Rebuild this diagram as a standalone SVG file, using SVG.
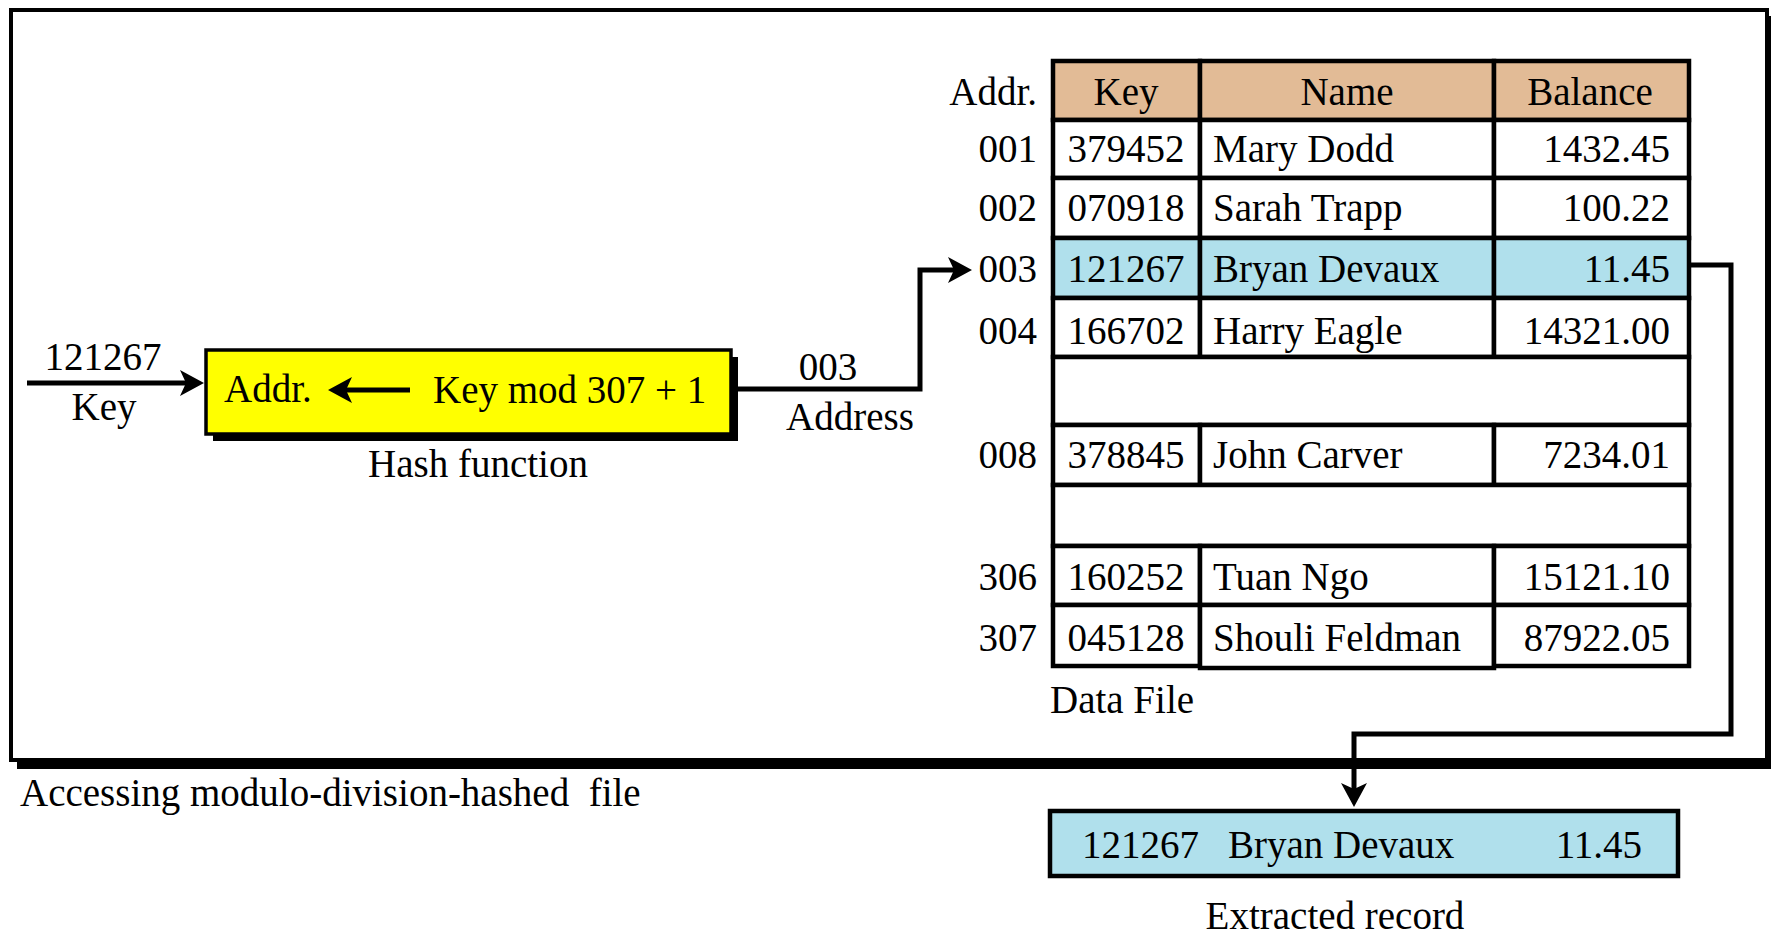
<svg xmlns="http://www.w3.org/2000/svg" width="1771" height="938" viewBox="0 0 1771 938">
  <style>
    text { font-family: "Liberation Serif", "Times New Roman", serif; font-size: 39px; fill: #000; }
    .mid { text-anchor: middle; }
    .end { text-anchor: end; }
    .cell { stroke: #000; stroke-width: 4.5; fill: #fff; }
    .hdr { fill: #E2BB96; }
    .hit { fill: #B0E0EC; }
    .wire { fill: none; stroke: #000; stroke-width: 5; stroke-linejoin: miter; }
  </style>
  <defs>
    <marker id="head" viewBox="0 0 24 26" refX="6" refY="13" markerWidth="24" markerHeight="26" markerUnits="userSpaceOnUse" orient="auto">
      <path d="M0,0 L24,13 L0,26 L6,13 Z" fill="#000"/>
    </marker>
  </defs>

  <!-- outer frame with drop shadow -->
  <g id="frame">
    <rect x="17" y="16" width="1754" height="753" fill="#000"/>
    <rect x="11" y="10" width="1756" height="750" fill="#fff" stroke="#000" stroke-width="4"/>
  </g>

  <!-- connectors -->
  <g id="connectors">
    <line class="wire" x1="27" y1="383" x2="186" y2="383" stroke-width="6" marker-end="url(#head)"/>
    <polyline class="wire" points="738,389 920,389 920,270 954,270" marker-end="url(#head)"/>
    <polyline class="wire" points="1691,265 1731,265 1731,734 1354,734 1354,789" marker-end="url(#head)"/>
  </g>

  <!-- key input labels -->
  <g id="key-input">
    <text class="mid" x="103" y="370">121267</text>
    <text class="mid" x="104" y="420">Key</text>
  </g>

  <!-- hash function box -->
  <g id="hash-function">
    <rect x="213" y="357" width="525" height="84" fill="#000"/>
    <rect x="206" y="350" width="525" height="84" fill="#FFFF00" stroke="#000" stroke-width="3.5"/>
    <text x="224" y="402">Addr.</text>
    <line class="wire" x1="410" y1="390" x2="346" y2="390" marker-end="url(#head)"/>
    <text x="433" y="403">Key mod 307 + 1</text>
    <text class="mid" x="478" y="477">Hash function</text>
  </g>

  <!-- address labels -->
  <g id="address">
    <text class="mid" x="828" y="380">003</text>
    <text class="mid" x="850" y="430">Address</text>
  </g>

  <!-- data file table -->
  <g id="data-file">
    <!-- header -->
    <rect class="cell hdr" x="1053" y="61" width="147" height="59"/>
    <rect class="cell hdr" x="1200" y="61" width="294" height="59"/>
    <rect class="cell hdr" x="1494" y="61" width="195" height="59"/>
    <text class="end" x="1037" y="105">Addr.</text>
    <text class="mid" x="1126" y="105">Key</text>
    <text class="mid" x="1347" y="105">Name</text>
    <text class="mid" x="1590" y="105">Balance</text>

    <!-- 001 -->
    <rect class="cell" x="1053" y="120" width="147" height="58"/>
    <rect class="cell" x="1200" y="120" width="294" height="58"/>
    <rect class="cell" x="1494" y="120" width="195" height="58"/>
    <text class="end" x="1037" y="162">001</text>
    <text class="mid" x="1126" y="162">379452</text>
    <text x="1213" y="162">Mary Dodd</text>
    <text class="end" x="1670" y="162">1432.45</text>

    <!-- 002 -->
    <rect class="cell" x="1053" y="178" width="147" height="60"/>
    <rect class="cell" x="1200" y="178" width="294" height="60"/>
    <rect class="cell" x="1494" y="178" width="195" height="60"/>
    <text class="end" x="1037" y="221">002</text>
    <text class="mid" x="1126" y="221">070918</text>
    <text x="1213" y="221">Sarah Trapp</text>
    <text class="end" x="1670" y="221">100.22</text>

    <!-- 003 (matched record) -->
    <rect class="cell hit" x="1053" y="238" width="147" height="60"/>
    <rect class="cell hit" x="1200" y="238" width="294" height="60"/>
    <rect class="cell hit" x="1494" y="238" width="195" height="60"/>
    <text class="end" x="1037" y="282">003</text>
    <text class="mid" x="1126" y="282">121267</text>
    <text x="1213" y="282">Bryan Devaux</text>
    <text class="end" x="1670" y="282">11.45</text>

    <!-- 004 -->
    <rect class="cell" x="1053" y="298" width="147" height="59"/>
    <rect class="cell" x="1200" y="298" width="294" height="59"/>
    <rect class="cell" x="1494" y="298" width="195" height="59"/>
    <text class="end" x="1037" y="344">004</text>
    <text class="mid" x="1126" y="344">166702</text>
    <text x="1213" y="344">Harry Eagle</text>
    <text class="end" x="1670" y="344">14321.00</text>

    <!-- gap -->
    <rect class="cell" x="1053" y="357" width="636" height="68"/>

    <!-- 008 -->
    <rect class="cell" x="1053" y="425" width="147" height="60"/>
    <rect class="cell" x="1200" y="425" width="294" height="60"/>
    <rect class="cell" x="1494" y="425" width="195" height="60"/>
    <text class="end" x="1037" y="468">008</text>
    <text class="mid" x="1126" y="468">378845</text>
    <text x="1213" y="468">John Carver</text>
    <text class="end" x="1670" y="468">7234.01</text>

    <!-- gap -->
    <rect class="cell" x="1053" y="485" width="636" height="61"/>

    <!-- 306 -->
    <rect class="cell" x="1053" y="546" width="147" height="59"/>
    <rect class="cell" x="1200" y="546" width="294" height="59"/>
    <rect class="cell" x="1494" y="546" width="195" height="59"/>
    <text class="end" x="1037" y="590">306</text>
    <text class="mid" x="1126" y="590">160252</text>
    <text x="1213" y="590">Tuan Ngo</text>
    <text class="end" x="1670" y="590">15121.10</text>

    <!-- 307 -->
    <rect class="cell" x="1053" y="605" width="147" height="61"/>
    <rect class="cell" x="1200" y="605" width="294" height="63"/>
    <rect class="cell" x="1494" y="605" width="195" height="61"/>
    <text class="end" x="1037" y="651">307</text>
    <text class="mid" x="1126" y="651">045128</text>
    <text x="1213" y="651">Shouli Feldman</text>
    <text class="end" x="1670" y="651">87922.05</text>

    <text x="1050" y="713">Data File</text>
  </g>

  <!-- caption of the frame -->
  <g id="caption">
    <text x="20" y="806" xml:space="preserve" style="white-space:pre">Accessing modulo-division-hashed  file</text>
  </g>

  <!-- extracted record -->
  <g id="extracted-record">
    <rect x="1050" y="811" width="628" height="65" fill="#B0E0EC" stroke="#000" stroke-width="4.5"/>
    <text x="1082" y="858">121267</text>
    <text x="1228" y="858">Bryan Devaux</text>
    <text class="end" x="1642" y="858">11.45</text>
    <text class="mid" x="1335" y="929">Extracted record</text>
  </g>
</svg>
